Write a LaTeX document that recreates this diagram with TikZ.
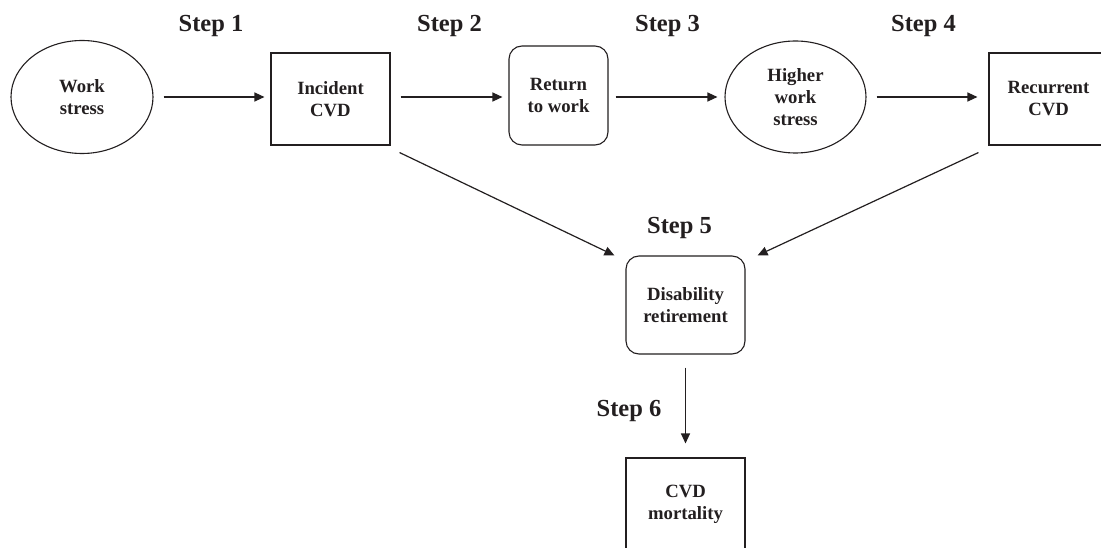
\documentclass[tikz,border=0pt]{standalone}
\usepackage{fontspec}
\setmainfont{Liberation Serif}
\usetikzlibrary{shapes.geometric,arrows.meta}
\definecolor{ink}{HTML}{231F20}
\begin{document}
\begin{tikzpicture}[x=1pt,y=-1pt,
  every node/.style={font=\bfseries\fontsize{18.7}{22}\selectfont, text=ink, align=center, inner sep=0pt},
  oval/.style={draw=ink, line width=1.1pt, ellipse, minimum width=142pt, minimum height=113pt},
  sqbox/.style={draw=ink, line width=1.1pt, rectangle, minimum width=119pt, minimum height=92pt},
  rbox/.style={draw=ink, line width=1.1pt, rectangle, rounded corners=13pt, minimum width=99pt, minimum height=99pt},
  steplabel/.style={font=\bfseries\fontsize{24.5}{28}\selectfont, anchor=base},
  link/.style={draw=ink, line width=1.2pt, -{Triangle[length=10pt,width=9pt]}}
]
\useasboundingbox (0,0) rectangle (1101,548);
\fill[white] (0,0) rectangle (1101,548);
\clip (0,0) rectangle (1101,548);

% nodes
\node[oval] (ws) at (82,97) {Work\\stress};
\node[sqbox] (ic) at (330.5,99) {Incident\\CVD};
\node[rbox] (rw) at (558.5,95.5) {Return\\to work};
\node[oval, minimum width=141pt, minimum height=112pt] (hw) at (795.5,97) {Higher\\work\\stress};
\node[sqbox] (rc) at (1048.5,99) {Recurrent\\CVD};
\node[rbox, minimum width=119pt, minimum height=98pt] (dr) at (685.5,305) {Disability\\retirement};
\node[sqbox] (cm) at (685.5,504) {CVD\\mortality};

% step labels
\node[steplabel] (s1) at (211,32) {Step 1};
\node[steplabel] (s2) at (449.5,32) {Step 2};
\node[steplabel] (s3) at (667.5,32) {Step 3};
\node[steplabel] (s4) at (923.5,32) {Step 4};
\node[steplabel] (s5) at (679.5,234) {Step 5};
\node[steplabel] (s6) at (629,416.5) {Step 6};

% connectors
\coordinate (row) at (0,97);
\draw[link, shorten <=10pt, shorten >=6pt] (ws.east |- row) -- (ic.west |- row);
\draw[link, shorten <=10pt, shorten >=6pt] (ic.east |- row) -- (rw.west |- row);
\draw[link, shorten <=7pt, shorten >=7pt] (rw.east |- row) -- (hw.west |- row);
\draw[link, shorten <=10pt, shorten >=11pt] (hw.east |- row) -- (rc.west |- row);
\draw[link] ([shift={(9,7)}]ic.south east) -- ([shift={(-11,0)}]dr.north west);
\draw[link] ([shift={(-10,7)}]rc.south west) -- ([shift={(12,0)}]dr.north east);
\draw[link, shorten <=13pt, shorten >=14pt] (dr.south) -- (cm.north);
\end{tikzpicture}
\end{document}
